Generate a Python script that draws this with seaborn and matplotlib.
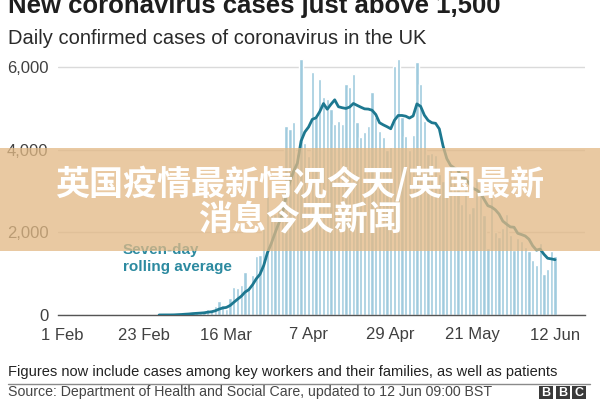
import numpy as np
import pandas as pd
import matplotlib.pyplot as plt
from matplotlib.patches import Rectangle
from matplotlib.lines import Line2D
import seaborn as sns

# ─────────────────────────────────────────
# DATA
# ─────────────────────────────────────────

START_DATE = "2020-02-01"
LINE_START = "2020-02-27"

# daily confirmed cases in the UK, 1 Feb to 12 Jun
feb_cases = [0, 0, 0, 0, 0, 1, 0, 0, 0, 4, 0, 0, 1, 0, 0, 0, 0, 0, 0, 0,
             0, 0, 4, 0, 0, 0, 2, 5, 3]
mar_cases = [4, 11, 34, 30, 48, 43, 67, 48, 52, 83, 134, 117, 208, 342, 251,
             152, 407, 676, 643, 714, 1035, 665, 967, 1427, 1452, 2129, 2885,
             2546, 2433, 2619, 3009]
apr_cases = [4570, 4510, 4660, 3900, 6190, 4150, 3850, 5870, 4780, 5700,
             5270, 5230, 4980, 4610, 4700, 4610, 5580, 5510, 5830, 4660,
             4300, 4420, 4570, 5390, 4780, 4440, 4300, 3990, 4070, 6020]
may_cases = [6190, 4780, 4320, 3980, 4350, 6110, 5600, 4700, 3900, 3920,
             3880, 3400, 3240, 3450, 3560, 3450, 3530, 2680, 3140, 2470,
             2610, 3290, 2960, 2410, 1630, 2900, 2010, 1890, 2100, 2450, 1940]
jun_cases = [1570, 1870, 1800, 1650, 1560, 1330, 1210, 1740, 1000, 1120,
             1540, 1430]

tick_dates = ["2020-02-01", "2020-02-23", "2020-03-16", "2020-04-07",
              "2020-04-29", "2020-05-21", "2020-06-12"]
tick_labels = ["1 Feb", "23 Feb", "16 Mar", "7 Apr", "29 Apr", "21 May", "12 Jun"]
y_ticks = [0, 2000, 4000, 6000]

BAR_COLOR = "#a0cbde"
LINE_COLOR = "#1d7890"
LABEL_COLOR = "#2c8aa0"
TEXT_DARK = "#1e1e1e"
TEXT_GREY = "#404040"

# ─────────────────────────────────────────
# SETUP
# ─────────────────────────────────────────

sns.set_style("white")
plt.rcParams["font.family"] = ["Liberation Sans", "DejaVu Sans"]
CJK = ["Noto Sans CJK SC", "DejaVu Sans"]

cases = feb_cases + mar_cases + apr_cases + may_cases + jun_cases
df = pd.DataFrame({
    "date": pd.date_range(START_DATE, periods=len(cases)),
    "cases": cases,
})
df["day"] = (df["date"] - df["date"].iloc[0]).dt.days
df["avg"] = df["cases"].rolling(7).mean()

tick_pos = (pd.to_datetime(tick_dates) - pd.Timestamp(START_DATE)).days

W, H = 600, 400
fig = plt.figure(figsize=(6, 4), dpi=100)
ax = fig.add_axes([58 / W, 85 / H, 527 / W, 260 / H])

# ─────────────────────────────────────────
# BARS + ROLLING AVERAGE
# ─────────────────────────────────────────

sns.barplot(data=df, x="day", y="cases", native_scale=True, width=0.88,
            color=BAR_COLOR, saturation=1, errorbar=None, ax=ax, zorder=2)
sns.lineplot(data=df[df["date"] >= LINE_START], x="day", y="avg",
             color=LINE_COLOR, linewidth=2, ax=ax, zorder=3)

ax.set_xlim(-1.07, 140)
ax.set_ylim(0, 6290)
ax.set_xlabel("")
ax.set_ylabel("")

ax.set_yticks(y_ticks)
ax.set_yticklabels([f"{v:,}" for v in y_ticks])
ax.set_xticks(tick_pos)
ax.set_xticklabels(tick_labels)

ax.yaxis.grid(True, color="#dadada", linewidth=1)
ax.xaxis.grid(False)
ax.set_axisbelow(True)
for side in ["top", "right", "left"]:
    ax.spines[side].set_visible(False)
ax.spines["bottom"].set_color("#555555")
ax.spines["bottom"].set_linewidth(1)

ax.tick_params(axis="y", length=0, pad=7, labelsize=12, labelcolor=TEXT_GREY)
ax.tick_params(axis="x", length=4, width=1, color="#555555", direction="out",
               pad=5, labelsize=12, labelcolor=TEXT_GREY)

fig.text(123 / W, 1 - 254 / H, "Seven-day", color=LABEL_COLOR, fontsize=11,
         fontweight="bold", va="baseline", ha="left")
fig.text(123 / W, 1 - 271 / H, "rolling average", color=LABEL_COLOR, fontsize=11,
         fontweight="bold", va="baseline", ha="left")

# ─────────────────────────────────────────
# TITLES + FOOTER
# ─────────────────────────────────────────

# title is cropped at the top edge, as in the source image
fig.text(8 / W, 1 - 13 / H, "New coronavirus cases just above 1,500",
         fontsize=18.5, fontweight="bold", color=TEXT_DARK, va="baseline")
fig.text(8 / W, 1 - 44 / H, "Daily confirmed cases of coronavirus in the UK",
         fontsize=14.5, color="#2a2a2a", va="baseline")

fig.text(8 / W, 1 - 376 / H,
         "Figures now include cases among key workers and their families, as well as patients",
         fontsize=10.5, color="#222222", va="baseline")
fig.add_artist(Line2D([8 / W, 590 / W], [1 - 384 / H, 1 - 384 / H],
                      transform=fig.transFigure, color="#8a8a8a", linewidth=1))
fig.text(8 / W, 1 - 396 / H,
         "Source: Department of Health and Social Care, updated to 12 Jun 09:00 BST",
         fontsize=10.2, color="#444444", va="baseline")

# BBC blocks
for i, letter in enumerate("BBC"):
    x0 = 539 + i * 16.5
    fig.add_artist(Rectangle((x0 / W, 1 - 399 / H), 14 / W, 13 / H,
                             transform=fig.transFigure, facecolor="#3a3a3a",
                             edgecolor="none"))
    fig.text((x0 + 7) / W, 1 - 396 / H, letter, color="white", fontsize=9,
             fontweight="bold", ha="center", va="baseline")

# ─────────────────────────────────────────
# OVERLAY BAND
# ─────────────────────────────────────────

fig.add_artist(Rectangle((0, 1 - 251 / H), 1, 103 / H, transform=fig.transFigure,
                         facecolor="#e2b985", alpha=0.76, edgecolor="none",
                         zorder=10))
fig.text(0.5, 1 - 184 / H, "英国疫情最新情况今天/英国最新", family=CJK,
         fontsize=24.5, fontweight="bold", color="white", ha="center",
         va="center", zorder=11)
fig.text(0.5, 1 - 219 / H, "消息今天新闻", family=CJK,
         fontsize=24.5, fontweight="bold", color="white", ha="center",
         va="center", zorder=11)

fig.savefig("out.png", dpi=100)
plt.close(fig)
